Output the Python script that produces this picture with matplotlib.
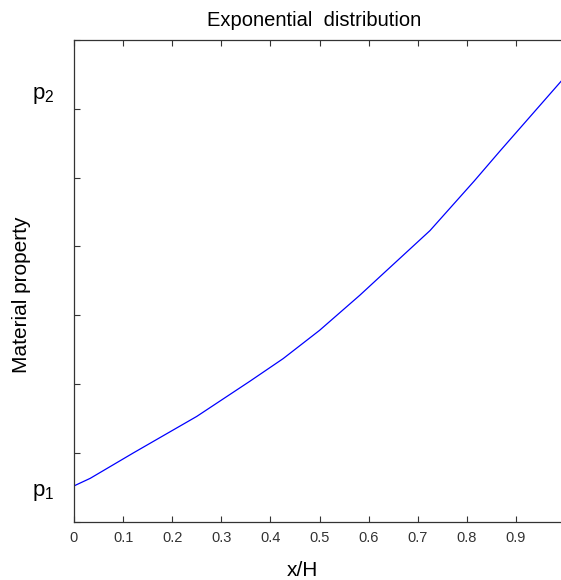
import matplotlib.pyplot as plt

# values (x/H vs. material property, arbitrary units)
x_vals = [0.0, 0.033, 0.121, 0.25, 0.358, 0.426, 0.5, 0.582, 0.623, 0.725, 0.75, 0.815, 0.868, 0.992, 1.0]
y_vals = [0.52, 0.63, 1.00, 1.53, 2.04, 2.37, 2.78, 3.29, 3.56, 4.23, 4.43, 4.95, 5.39, 6.40, 6.46]
x_ticks = [0, 0.1, 0.2, 0.3, 0.4, 0.5, 0.6, 0.7, 0.8, 0.9]
x_tick_labels = ["0", "0.1", "0.2", "0.3", "0.4", "0.5", "0.6", "0.7", "0.8", "0.9"]
y_ticks = [0, 1, 2, 3, 4, 5, 6, 7]
p1_value = 0.52
p2_value = 6.2

plt.rcParams['font.family'] = ['Liberation Sans', 'DejaVu Sans']

fig = plt.figure(figsize=(5.61, 5.80), dpi=100)
ax = fig.add_axes([74 / 561, 1 - 521.7 / 580, 491 / 561, (521.7 - 40) / 580])

ax.plot(x_vals, y_vals, color='#0000ff', lw=0.9)

ax.set_xlim(0, 1)
ax.set_ylim(0, 7)
ax.set_xticks(x_ticks)
ax.set_xticklabels(x_tick_labels)
ax.set_yticks(y_ticks)
ax.set_yticklabels([])
ax.tick_params(direction='in', length=4, width=0.8, top=True, right=False,
               labelsize=10.5, colors='#333333', pad=7)
for sp in ax.spines.values():
    sp.set_color('#333333')
    sp.set_linewidth(0.9)

# p1 / p2 markers on the y axis
ax.text(-0.04, p1_value - 0.1, r'$\mathregular{p}_{\mathregular{1}}$', transform=ax.get_yaxis_transform(),
        ha='right', va='center', fontsize=16)
ax.text(-0.04, p2_value, r'$\mathregular{p}_{\mathregular{2}}$', transform=ax.get_yaxis_transform(),
        ha='right', va='center', fontsize=16)

fig.text(314 / 561, 1 - 20 / 580, "Exponential  distribution", ha='center', va='center', fontsize=14.5)
fig.text(302 / 561, 1 - 570 / 580, "x/H", ha='center', va='center', fontsize=15)
fig.text(22 / 561, 1 - 295 / 580, "Material property", ha='center', va='center',
         rotation=90, fontsize=15)

fig.savefig("out.png", dpi=100)
